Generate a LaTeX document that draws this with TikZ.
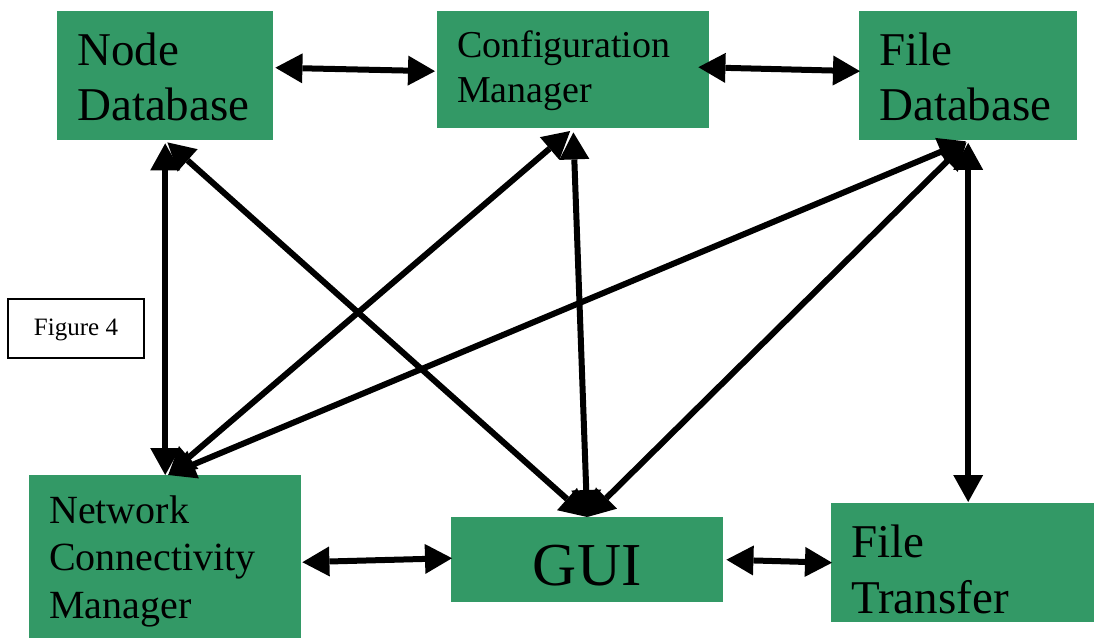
\documentclass[tikz,border=0pt]{standalone}
\usepackage{fontspec}
\setmainfont{Liberation Serif}
\usepackage{xcolor}
\usetikzlibrary{arrows.meta}
\definecolor{boxgreen}{RGB}{51,153,102}

\begin{document}
\begin{tikzpicture}[x=1pt,y=-1pt,
module/.style={rectangle,fill=boxgreen,inner xsep=20pt,inner ysep=0pt,anchor=north west,align=left,text height=0pt},
link/.style={line width=6pt,{Triangle[length=27pt,width=30pt,line width=0pt]}-{Triangle[length=27pt,width=30pt,line width=0pt]}},
figlabel/.style={draw=black,line width=1.4pt,fill=white,minimum width=136pt,minimum height=59pt,inner sep=0pt}
]
\useasboundingbox (0,0) rectangle (1094,639);

\node[module,minimum width=216pt,minimum height=129pt,text width=176pt,text depth=21pt,font=\fontsize{47}{55}\selectfont] (nodedb) at (57,11) {Node\\Database};
\node[module,minimum width=272pt,minimum height=117pt,text width=232pt,text depth=25pt,font=\fontsize{38}{45}\selectfont] (config) at (437,11) {Configuration\\Manager};
\node[module,minimum width=218pt,minimum height=129pt,text width=178pt,text depth=21pt,font=\fontsize{47}{55}\selectfont] (filedb) at (859,11) {File\\Database};
\node[module,minimum width=272pt,minimum height=163pt,text width=232pt,text depth=67pt,font=\fontsize{40}{47.5}\selectfont] (ncm) at (29,475) {Network\\Connectivity\\Manager};
\node[module,align=center,minimum width=272pt,minimum height=85pt,text height=51pt,text depth=0pt,font=\fontsize{61}{70}\selectfont] (gui) at (451,517) {GUI};
\node[module,minimum width=263pt,minimum height=119pt,text width=223pt,text depth=11pt,font=\fontsize{47}{56}\selectfont] (transfer) at (831,503) {File\\Transfer};

\node[figlabel,text height=13pt,text depth=0pt,font=\fontsize{25}{30}\selectfont] (figno) at (76,328.5) {Figure 4};

\draw[link] ([xshift=2pt,yshift=8pt]nodedb.east) -- ([xshift=-2pt,yshift=-1.5pt]config.west);
\draw[link] ([xshift=-11pt,yshift=2.5pt]config.east) -- ([xshift=1pt,yshift=4.5pt]filedb.west);
\draw[link] ([xshift=1pt,yshift=-5.5pt]ncm.east) -- ([xshift=1pt,yshift=1.5pt]gui.west);
\draw[link] ([xshift=3pt]gui.east) -- ([xshift=1pt]transfer.west);

\draw[link,shorten <=3pt] (nodedb.south) -- (ncm.north);
\draw[link,shorten <=3pt] (nodedb.south) -- (gui.north);
\draw[link,shorten <=4pt] (config.south) -- ([xshift=3pt]ncm.north);
\draw[link,shorten <=4pt] (config.south) -- (gui.north);
\draw[link,shorten <=2.5pt] (filedb.south) -- ([xshift=3pt]ncm.north);
\draw[link,shorten <=2.5pt] (filedb.south) -- (gui.north);
\draw[link,shorten <=2.5pt,shorten >=1pt] (filedb.south) -- (filedb.south |- transfer.north);
\end{tikzpicture}
\end{document}
